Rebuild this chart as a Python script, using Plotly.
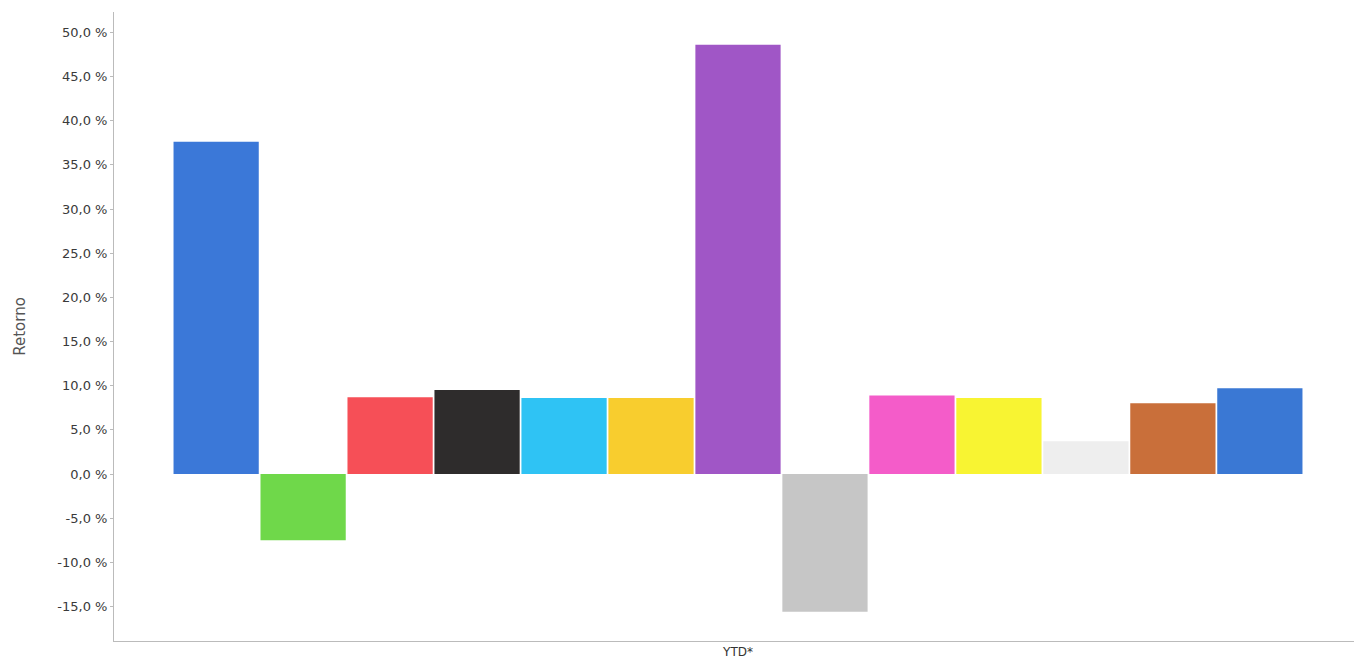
import plotly.graph_objects as go

# YTD returns (%) per fund
category = ["YTD*"]
returns = [37.6, -7.5, 8.7, 9.5, 8.6, 8.6, 48.6, -15.6, 8.9, 8.6, 3.7, 8.0, 9.7]
colors = ["#3b78d8", "#6fd84a", "#f64f57", "#2e2c2c", "#2fc3f4", "#f8cd2e", "#a056c6",
          "#c6c6c6", "#f45cc9", "#f8f432", "#eeeeee", "#c96f3a", "#3a78d4"]

tick_vals = [-15, -10, -5, 0, 5, 10, 15, 20, 25, 30, 35, 40, 45, 50]
tick_text = ["-15,0 %", "-10,0 %", "-5,0 %", "0,0 %", "5,0 %", "10,0 %", "15,0 %",
             "20,0 %", "25,0 %", "30,0 %", "35,0 %", "40,0 %", "45,0 %", "50,0 %"]

fig = go.Figure()
for i, (val, col) in enumerate(zip(returns, colors)):
    fig.add_trace(go.Bar(x=category, y=[val], name=f"Serie {i + 1}",
                         marker=dict(color=col, line=dict(width=0)),
                         hoverinfo="y"))

# page body adds an 8px offset, so the figure is sized/margined to compensate
fig.update_layout(
    width=1354, height=655,
    barmode="group", bargap=0.094, bargroupgap=0.02,
    showlegend=False,
    plot_bgcolor="white", paper_bgcolor="white",
    margin=dict(l=106, r=0, t=4, b=22),
    font=dict(family="DejaVu Sans", size=13, color="#3a3a3a"),
    xaxis=dict(showline=True, linecolor="#bbbbbb", linewidth=1,
               showgrid=False, ticks="", tickfont=dict(size=12, color="#333")),
    yaxis=dict(range=[-18.9, 52.3], tickvals=tick_vals, ticktext=tick_text,
               showline=True, linecolor="#bbbbbb", linewidth=1,
               showgrid=False, zeroline=False, ticks="outside", ticklen=3,
               tickcolor="#bbbbbb",
               title=dict(text="Retorno", font=dict(size=15, color="#555"), standoff=28)),
)

fig.write_html("out.html")
